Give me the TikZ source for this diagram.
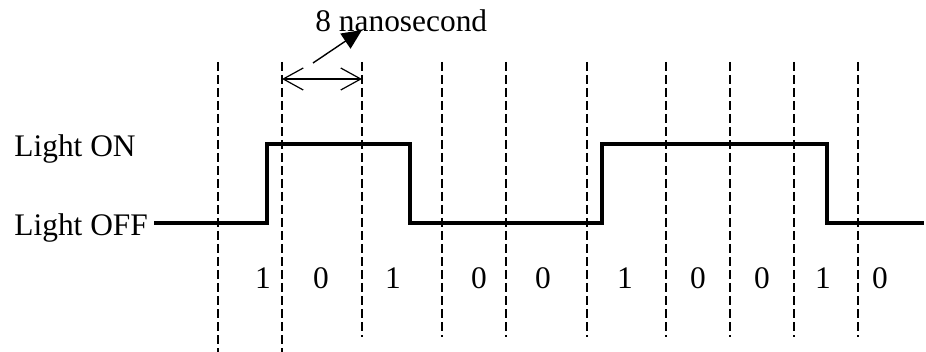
\documentclass[tikz,border=0pt]{standalone}
\usepackage{fontspec}
\setmainfont{Liberation Serif}
\usetikzlibrary{arrows.meta}
\begin{document}
\begin{tikzpicture}[x=0.5pt,y=-0.5pt,
  lbl/.style={inner sep=0pt,font=\fontsize{15.7}{18}\selectfont},
  grid/.style={line width=0.8pt,dash pattern=on 4.5pt off 2pt},
  signal/.style={line width=1.6pt,line join=miter},
  riser/.style={line width=2.1pt},
  dim/.style={line width=0.6pt,{Straight Barb[length=10pt,width=11pt]}-{Straight Barb[length=10pt,width=11pt]}},
  pointer/.style={line width=0.7pt,-{Triangle[length=10pt,width=9pt]}}]
\useasboundingbox (0,0) rectangle (926,352);
% labels
\node[lbl,anchor=base west] (on) at (14,157) {Light ON};
\node[lbl,anchor=base west] (off) at (14,235) {Light OFF};
\node[lbl,anchor=base west] (ns) at (315,32) {8 nanosecond};
% dashed bit boundaries
\foreach \i/\x/\b in {1/218/352,2/282/352,3/362/337,4/442/337,5/506/337,6/587/337,7/666/337,8/730/337,9/794/337,10/858/337}{
  \coordinate (t\i) at (\x,62);
  \coordinate (b\i) at (\x,\b);
  \draw[grid] (t\i) -- (b\i);
}
% bits
\foreach \x/\v [count=\k] in {263/1,321/0,393/1,479/0,543/0,625/1,698/0,762/0,823/1,880/0}{
  \node[lbl] (bit\k) at (\x,278) {\v};
}
% signal
\coordinate (s0) at (154,223);
\coordinate (s1) at (267,223);
\coordinate (s2) at (267,144);
\coordinate (s3) at (410,144);
\coordinate (s4) at (410,223);
\coordinate (s5) at (602,223);
\coordinate (s6) at (602,144);
\coordinate (s7) at (827,144);
\coordinate (s8) at (827,223);
\coordinate (s9) at (924,223);
\draw[signal] (s0) -- (s1) -- (s2) -- (s3) -- (s4) -- (s5) -- (s6) -- (s7) -- (s8) -- (s9);
\draw[riser] (s1) -- (s2) (s3) -- (s4) (s5) -- (s6) (s7) -- (s8);
% dimension arrow
\coordinate (d1) at (282,79);
\coordinate (d2) at (362,79);
\draw[dim] (d1) -- (d2);
\coordinate (p0) at (313,63);
\coordinate (p1) at (362,30);
\draw[pointer] (p0) -- (p1);
\end{tikzpicture}
\end{document}
